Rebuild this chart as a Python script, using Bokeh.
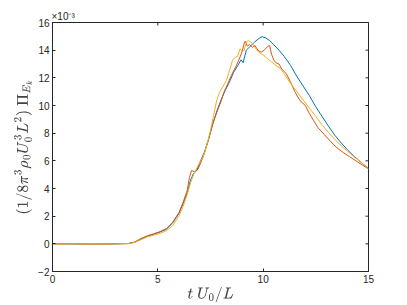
import math
from bokeh.plotting import figure
from bokeh.models import FixedTicker
from bokeh.embed import file_html
from bokeh.resources import INLINE

# time axis t U0/L and normalised flux (units of 1e-3)
t_blue = [0, 1, 2, 3, 3.6, 3.9, 4.2, 4.5, 4.8, 5.1, 5.4, 5.7, 6.0, 6.2, 6.4, 6.55, 6.7, 6.85, 7.0, 7.2,
          7.4, 7.6, 7.8, 8.0, 8.2, 8.4, 8.6, 8.8, 8.95, 9.05, 9.2, 9.4, 9.6, 9.8, 9.95, 10.1, 10.3, 10.5,
          10.75, 11.0, 11.3, 11.6, 11.9, 12.2, 12.5, 12.8, 13.1, 13.4, 13.7, 14.0, 14.3, 14.6, 14.8, 15.0]
y_blue = [0, 0, -0.02, 0, 0.02, 0.12, 0.35, 0.55, 0.7, 0.85, 1.05, 1.5, 2.2, 2.9, 3.7, 4.6, 5.1, 5.3, 5.9, 6.6,
          7.5, 8.6, 9.6, 10.4, 11.1, 11.7, 12.4, 12.9, 13.3, 13.1, 14.0, 14.3, 14.6, 14.85, 14.97, 14.9, 14.7, 14.4,
          14.0, 13.55, 12.9, 12.1, 11.4, 10.7, 9.9, 9.2, 8.5, 7.85, 7.3, 6.8, 6.35, 5.95, 5.7, 5.45]

t_orange = [0, 1, 2, 3, 3.6, 3.9, 4.2, 4.5, 4.8, 5.1, 5.4, 5.7, 6.0, 6.2, 6.4, 6.5, 6.6, 6.75, 6.9, 7.05, 7.2,
            7.4, 7.6, 7.8, 8.0, 8.15, 8.3, 8.5, 8.7, 8.85, 9.0, 9.1, 9.15, 9.25, 9.35, 9.5, 9.6, 9.75, 9.9,
            10.05, 10.2, 10.3, 10.4, 10.5, 10.6, 10.75, 10.9, 11.1, 11.3, 11.5, 11.75, 12.0, 12.2, 12.4, 12.6,
            12.9, 13.2, 13.5, 13.8, 14.1, 14.4, 14.7, 15.0]
y_orange = [0, 0, -0.02, 0, 0.02, 0.12, 0.38, 0.58, 0.72, 0.88, 1.1, 1.55, 2.25, 3.0, 3.9, 4.8, 5.3, 5.2, 5.4, 5.9, 6.5,
            7.5, 8.7, 9.5, 10.3, 11.0, 11.5, 12.2, 12.8, 13.3, 13.9, 14.5, 14.65, 14.3, 14.4, 14.2, 14.35, 14.0, 13.85,
            14.0, 14.25, 14.35, 13.7, 13.3, 13.1, 13.0, 12.6, 12.3, 11.7, 11.0, 10.35, 10.0, 9.4, 8.9, 8.4,
            7.9, 7.4, 6.95, 6.6, 6.3, 6.0, 5.7, 5.42]

t_yellow = [0, 1, 2, 3, 3.6, 3.9, 4.2, 4.5, 4.8, 5.1, 5.4, 5.7, 6.0, 6.2, 6.4, 6.55, 6.7, 6.85, 7.0, 7.15, 7.3,
            7.5, 7.65, 7.8, 7.95, 8.1, 8.25, 8.4, 8.55, 8.7, 8.8, 8.9, 9.0, 9.1, 9.2, 9.3, 9.4, 9.55, 9.7, 9.85,
            10.0, 10.2, 10.4, 10.6, 10.8, 11.0, 11.3, 11.6, 11.9, 12.2, 12.5, 12.8, 13.1, 13.4, 13.7, 14.0, 14.3,
            14.6, 14.8, 15.0]
y_yellow = [0, 0, -0.02, 0, 0.02, 0.1, 0.3, 0.5, 0.62, 0.75, 0.95, 1.3, 2.0, 2.7, 3.6, 4.4, 5.0, 5.5, 5.9, 6.3, 7.0,
            8.2, 9.3, 10.4, 11.0, 11.4, 11.8, 12.5, 13.3, 13.5, 13.6, 14.1, 13.9, 14.0, 14.6, 14.7, 14.6, 14.35, 14.0, 13.8,
            13.65, 13.4, 13.15, 12.9, 12.7, 12.3, 11.6, 11.0, 10.4, 9.8, 9.2, 8.6, 8.05, 7.55, 7.1, 6.7, 6.3,
            5.95, 5.7, 5.42]

x_ticks = [0, 5, 10, 15]
y_ticks = [-2, 0, 2, 4, 6, 8, 10, 12, 14, 16]
x_lim = (0, 15)
y_lim = (-2, 16)

AX = "#262626"
FONT = "Liberation Sans"

p = figure(width=407, height=305, x_range=x_lim, y_range=y_lim,
           output_backend="svg", toolbar_location=None,
           min_border_left=52, min_border_right=39, min_border_top=22, min_border_bottom=34)
p.xgrid.visible = False
p.ygrid.visible = False
p.outline_line_color = AX
p.outline_line_width = 1
p.background_fill_color = "white"
p.border_fill_color = "white"

p.title.text = "×10⁻³"
p.title.align = "left"
p.title.text_font = FONT
p.title.text_font_size = "10px"
p.title.text_font_style = "normal"
p.title.text_color = AX
p.title.offset = -1
p.title.standoff = 1


def style(ax, ticks):
    ax.ticker = FixedTicker(ticks=ticks)
    ax.axis_line_color = AX
    ax.major_tick_line_color = AX
    ax.major_tick_in = 3
    ax.major_tick_out = 0
    ax.minor_tick_line_color = None
    ax.major_label_text_font = FONT
    ax.major_label_text_font_size = "10px"
    ax.major_label_text_color = AX
    ax.major_label_standoff = 3


style(p.xaxis[0], x_ticks)
style(p.yaxis[0], y_ticks)
p.xaxis[0].axis_label = r"$$t\ U_0/L$$"
p.xaxis[0].axis_label_standoff = 1
p.xaxis[0].axis_label_text_font_size = "13px"
p.yaxis[0].axis_label = r"$$(1/8\pi^3\rho_0 U_0^3 L^2)\ \Pi_{E_k}$$"
p.yaxis[0].axis_label_standoff = 3
p.yaxis[0].axis_label_text_font_size = "13.5px"

# inward ticks on the top and right edges (dashes clipped by the frame)
p.scatter(x_ticks, [y_lim[1]] * len(x_ticks), marker="dash", angle=math.pi / 2, size=6,
          line_color=AX, line_width=1)
p.scatter([x_lim[1]] * len(y_ticks), y_ticks, marker="dash", size=6, line_color=AX, line_width=1)

p.line(t_blue, y_blue, line_color="#0072BD", line_width=1)
p.line(t_orange, y_orange, line_color="#D95319", line_width=1)
p.line(t_yellow, y_yellow, line_color="#EDB120", line_width=1)

open("out.html", "w").write(file_html(p, INLINE))
